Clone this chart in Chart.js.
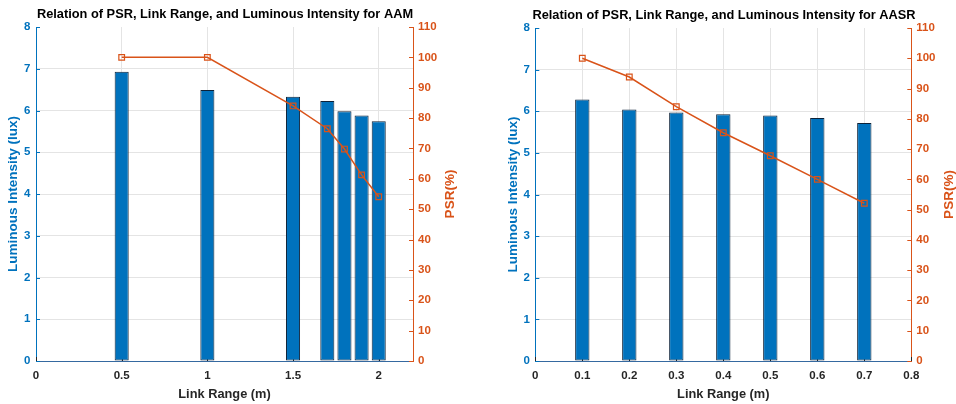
<!DOCTYPE html>
<html>
<head>
<meta charset="utf-8">
<title>PSR, Link Range and Luminous Intensity</title>
<script src="https://cdn.jsdelivr.net/npm/chart.js@4.4.1/dist/chart.umd.min.js"></script>
<style>
  html, body { margin: 0; padding: 0; width: 956px; height: 404px; overflow: hidden; background: #fff; }
  body { position: relative; }
  .panel { position: absolute; top: 0; height: 404px; }
  #panelAAM { left: -10px; width: 470px; }
  #panelAASR { left: 488px; width: 472px; }
</style>
</head>
<body>
<div class="panel" id="panelAAM"><canvas id="chartAAM"></canvas></div>
<div class="panel" id="panelAASR"><canvas id="chartAASR"></canvas></div>
<script>
// ---- AAM measurements ----
const aamRange = [0.5, 1.0, 1.5, 1.7, 1.8, 1.9, 2.0];          // link range (m)
const aamLux   = [6.93, 6.49, 6.33, 6.23, 5.98, 5.88, 5.74];     // luminous intensity (lux)
const aamPsr   = [100, 100, 84, 76.5, 69.8, 61.3, 54.1];          // PSR (%)
const aamXTicks = [0, 0.5, 1, 1.5, 2];

// ---- AASR measurements ----
const aasrRange = [0.1, 0.2, 0.3, 0.4, 0.5, 0.6, 0.7];
const aasrLux   = [6.28, 6.04, 5.97, 5.93, 5.90, 5.84, 5.72];
const aasrPsr   = [100, 93.8, 84, 75.4, 67.8, 60.0, 52.1];
const aasrXTicks = [0, 0.1, 0.2, 0.3, 0.4, 0.5, 0.6, 0.7, 0.8];

// ---- shared axes ----
const luxTicks = [0, 1, 2, 3, 4, 5, 6, 7, 8];
const psrTicks = [0, 10, 20, 30, 40, 50, 60, 70, 80, 90, 100, 110];

const LUX_COLOR = '#0072BD';
const PSR_COLOR = '#D95319';
const TEXT_DARK = '#262626';
const GRID_COLOR = '#e4e4e4';
const FONT = '"Liberation Sans", Arial, Helvetica, sans-serif';
const TICK_SIZE = 11.5;

Chart.defaults.font.family = FONT;
Chart.defaults.animation = false;

const fmt = v => String(Math.round(v * 10) / 10);

// short inward tick marks on the axes
const innerTicks = {
  id: 'innerTicks',
  beforeDatasetsDraw(chart) {
    const { ctx, chartArea: a, scales: { x } } = chart;
    ctx.save();
    ctx.lineWidth = 1;
    ctx.strokeStyle = TEXT_DARK;
    x.ticks.forEach(t => {
      const p = Math.round(x.getPixelForValue(t.value)) + 0.5;
      ctx.beginPath(); ctx.moveTo(p, a.bottom); ctx.lineTo(p, a.bottom - 4); ctx.stroke();
    });
    ctx.restore();
  },
  afterDraw(chart) {
    const { ctx, chartArea: a, scales: { y, y1 } } = chart;
    ctx.save();
    ctx.lineWidth = 1;
    ctx.strokeStyle = LUX_COLOR;
    y.ticks.forEach(t => {
      const p = Math.round(y.getPixelForValue(t.value)) + 0.5;
      ctx.beginPath(); ctx.moveTo(a.left, p); ctx.lineTo(a.left + 4, p); ctx.stroke();
    });
    ctx.strokeStyle = PSR_COLOR;
    y1.ticks.forEach(t => {
      const p = Math.round(y1.getPixelForValue(t.value)) + 0.5;
      ctx.beginPath(); ctx.moveTo(a.right, p); ctx.lineTo(a.right - 4, p); ctx.stroke();
    });
    ctx.restore();
  }
};

// right-hand axis title, reading bottom-to-top like the left one
const psrTitle = {
  id: 'psrTitle',
  afterDraw(chart, args, opts) {
    const { ctx, chartArea: a } = chart;
    ctx.save();
    ctx.translate(a.right + opts.gap, (a.top + a.bottom) / 2);
    ctx.rotate(-Math.PI / 2);
    ctx.font = 'bold 13.5px ' + FONT;
    ctx.fillStyle = PSR_COLOR;
    ctx.textAlign = 'center';
    ctx.textBaseline = 'middle';
    ctx.fillText(opts.text, 0, 0);
    ctx.restore();
  }
};

function buildChart(canvasId, cfg) {
  const TITLE_SIZE = 12.8;
  const YTITLE_SIZE = 13.5;
  const XTITLE_SIZE = 12.8;
  return new Chart(document.getElementById(canvasId), {
    type: 'bar',
    data: {
      datasets: [
        {
          type: 'line',
          label: 'PSR(%)',
          data: cfg.range.map((r, i) => ({ x: r, y: cfg.psr[i] })),
          yAxisID: 'y1',
          order: 0,
          borderColor: PSR_COLOR,
          borderWidth: 1.5,
          tension: 0,
          pointStyle: 'rect',
          pointRadius: 4,
          pointBorderWidth: 1.2,
          pointBorderColor: PSR_COLOR,
          pointBackgroundColor: 'rgba(0,0,0,0)'
        },
        {
          type: 'bar',
          label: 'Luminous Intensity (lux)',
          data: cfg.range.map((r, i) => ({ x: r, y: cfg.lux[i] })),
          yAxisID: 'y',
          order: 1,
          backgroundColor: LUX_COLOR,
          borderColor: '#0d2238',
          borderWidth: 1,
          borderSkipped: false,
          categoryPercentage: 1,
          barPercentage: cfg.barPct
        }
      ]
    },
    options: {
      responsive: true,
      maintainAspectRatio: false,
      devicePixelRatio: 1,
      layout: { padding: 0 },
      plugins: {
        legend: { display: false },
        tooltip: { enabled: false },
        title: {
          display: true,
          text: cfg.title,
          color: '#000',
          font: { size: TITLE_SIZE, weight: 'bold', lineHeight: 1 },
          padding: { top: cfg.titleCenter - TITLE_SIZE / 2, bottom: cfg.top - cfg.titleCenter - TITLE_SIZE / 2 }
        },
        psrTitle: { text: 'PSR(%)', gap: 37.5 }
      },
      scales: {
        x: {
          type: 'linear',
          min: 0,
          max: cfg.xMax,
          offset: false,
          afterBuildTicks: s => { s.ticks = cfg.xTicks.map(v => ({ value: v })); },
          afterFit: s => { s.height = 404 - cfg.bottom; },
          ticks: { color: TEXT_DARK, padding: 7.5, font: { size: TICK_SIZE, weight: 'bold' }, callback: v => fmt(v), maxRotation: 0 },
          grid: { color: GRID_COLOR, drawTicks: false, offset: false },
          border: { color: '#3569a0', width: 1 },
          title: {
            display: true, text: 'Link Range (m)', color: TEXT_DARK,
            font: { size: XTITLE_SIZE, weight: 'bold', lineHeight: 1 },
            padding: { top: 0, bottom: 3.3 }
          }
        },
        y: {
          type: 'linear',
          position: 'left',
          min: 0,
          max: 8,
          afterBuildTicks: s => { s.ticks = luxTicks.map(v => ({ value: v })); },
          afterFit: s => { s.width = cfg.leftW; },
          ticks: { color: LUX_COLOR, padding: 5.5, font: { size: TICK_SIZE, weight: 'bold' }, callback: v => fmt(v) },
          grid: {
            drawTicks: false,
            color: ctx => (ctx.tick && ctx.tick.value === 8) ? 'rgba(0,0,0,0)' : GRID_COLOR
          },
          border: { color: LUX_COLOR, width: 1 },
          title: {
            display: true, text: 'Luminous Intensity (lux)', color: LUX_COLOR,
            font: { size: YTITLE_SIZE, weight: 'bold', lineHeight: 1 },
            padding: { top: cfg.leftW - 22.5 - YTITLE_SIZE / 2, bottom: 0 }
          }
        },
        y1: {
          type: 'linear',
          position: 'right',
          min: 0,
          max: 110,
          afterBuildTicks: s => { s.ticks = psrTicks.map(v => ({ value: v })); },
          afterFit: s => { s.width = cfg.rightW; },
          ticks: { color: PSR_COLOR, padding: 5, font: { size: TICK_SIZE, weight: 'bold' }, callback: v => fmt(v) },
          grid: { display: false, drawTicks: false },
          border: { color: PSR_COLOR, width: 1 }
        }
      }
    },
    plugins: [innerTicks, psrTitle]
  });
}

buildChart('chartAAM', {
  title: 'Relation of PSR, Link Range, and Luminous Intensity for AAM',
  range: aamRange, lux: aamLux, psr: aamPsr, xTicks: aamXTicks, xMax: 2.2,
  barPct: 0.82,
  leftW: 46, rightW: 47, top: 27, bottom: 361, titleCenter: 14.7
});

buildChart('chartAASR', {
  title: 'Relation of PSR, Link Range, and Luminous Intensity for AASR',
  range: aasrRange, lux: aasrLux, psr: aasrPsr, xTicks: aasrXTicks, xMax: 0.8,
  barPct: 0.305,
  leftW: 47.3, rightW: 48.7, top: 28, bottom: 361, titleCenter: 15.7
});
</script>
</body>
</html>
